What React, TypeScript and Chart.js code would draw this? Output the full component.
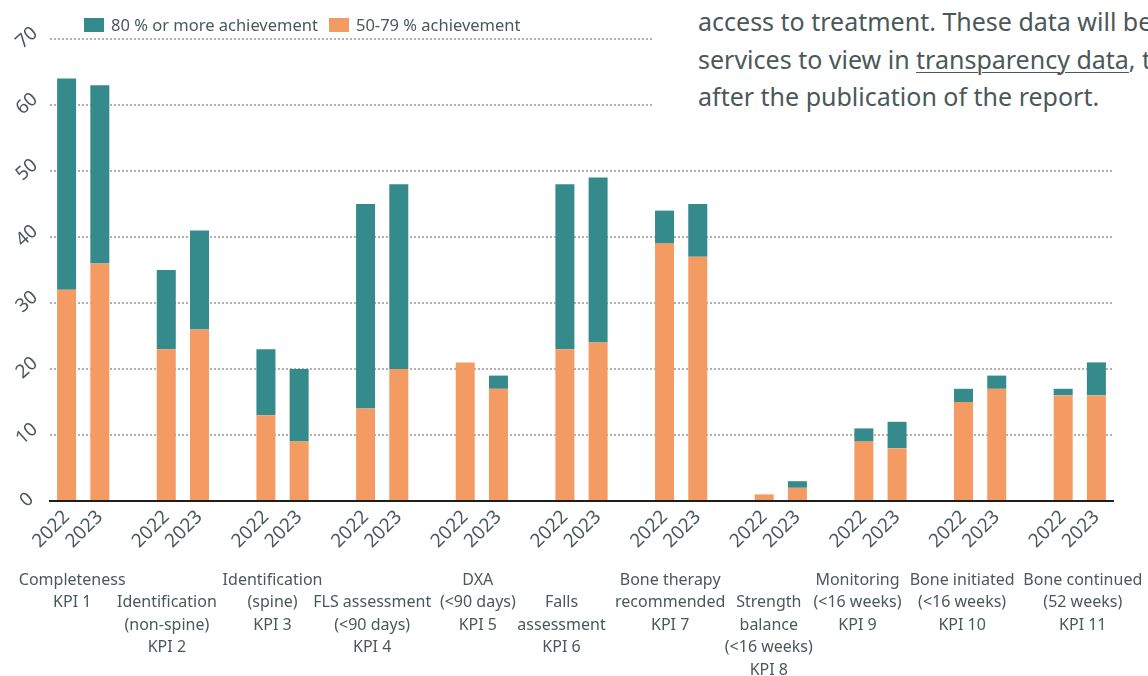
import React, { useEffect, useRef } from 'react';
import { Chart, registerables } from 'chart.js';

Chart.register(...registerables);

// ---------- data ----------
const years = ['2022', '2023'];

const kpiNames: string[][] = [
  ['Completeness', 'KPI 1'],
  ['Identification', '(non-spine)', 'KPI 2'],
  ['Identification', '(spine)', 'KPI 3'],
  ['FLS assessment', '(<90 days)', 'KPI 4'],
  ['DXA', '(<90 days)', 'KPI 5'],
  ['Falls', 'assessment', 'KPI 6'],
  ['Bone therapy', 'recommended', 'KPI 7'],
  ['Strength', 'balance', '(<16 weeks)', 'KPI 8'],
  ['Monitoring', '(<16 weeks)', 'KPI 9'],
  ['Bone initiated', '(<16 weeks)', 'KPI 10'],
  ['Bone continued', '(52 weeks)', 'KPI 11'],
];

// 50-79 % achievement (bottom of stack)
const mid2022 = [32, 23, 13, 14, 21, 23, 39, 1, 9, 15, 16];
const mid2023 = [36, 26, 9, 20, 17, 24, 37, 2, 8, 17, 16];
// 80 % or more achievement (top of stack)
const high2022 = [32, 12, 10, 31, 0, 25, 5, 0, 2, 2, 1];
const high2023 = [27, 15, 11, 28, 2, 25, 8, 1, 4, 2, 5];

const seriesHigh = '80 % or more achievement';
const seriesMid = '50-79 % achievement';

const yMax = 70;
const yStep = 10;

const noteLines = [
  ['access to treatment. These data will be'],
  ['services to view in ', 'transparency data', ', t'],
  ['after the publication of the report.'],
];

// ---------- layout / style ----------
const FONT = 'Noto Sans';
const TEXT = '#4a5859';
const TEAL = '#358a8c';
const ORANGE = '#f49b63';
const labelRow = [0, 1, 0, 1, 0, 1, 0, 1, 0, 0, 0];
const labelShift = [-11, -16, -10, -10, -4, -20, -11, -12, -23, -18, 3];

function slots<T>(a: T[], b: T[], gap: T): T[] {
  const out: T[] = [];
  for (let g = 0; g < a.length; g++) {
    out.push(a[g], b[g]);
    if (g < a.length - 1) out.push(gap);
  }
  return out;
}

const groupLabelPlugin = {
  id: 'groupLabels',
  afterDraw(chart: any) {
    const ctx = chart.ctx;
    const xs = chart.scales.x;
    const ys = chart.scales.y;
    ctx.save();
    ctx.fillStyle = TEXT;
    // y tick labels, rotated
    ctx.font = `19px "${FONT}"`;
    ctx.textAlign = 'center';
    ctx.textBaseline = 'middle';
    ys.ticks.forEach((t: any) => {
      const py = ys.getPixelForValue(t.value);
      ctx.save();
      ctx.translate(27, py - 1);
      ctx.rotate((-42 * Math.PI) / 180);
      ctx.fillText(String(t.value), 0, 0);
      ctx.restore();
    });
    // group labels
    ctx.font = `16px "${FONT}"`;
    kpiNames.forEach((lines, g) => {
      const i0 = g * 3;
      const cx = (xs.getPixelForValue(i0) + xs.getPixelForValue(i0 + 1)) / 2 + labelShift[g];
      const y0 = 580 + labelRow[g] * 22.5;
      lines.forEach((ln, k) => ctx.fillText(ln, cx, y0 + k * 22.6));
    });
    ctx.restore();
  },
};

export default function App() {
  const ref = useRef<HTMLCanvasElement>(null);

  useEffect(() => {
    document.body.style.margin = '0';
    const labels = slots(kpiNames.map(() => years[0]), kpiNames.map(() => years[1]), '');
    const chart = new Chart(ref.current as HTMLCanvasElement, {
      type: 'bar',
      data: {
        labels,
        datasets: [
          {
            label: seriesMid,
            data: slots<number | null>(mid2022, mid2023, null),
            backgroundColor: ORANGE,
            barPercentage: 0.572,
            categoryPercentage: 1,
          },
          {
            label: seriesHigh,
            data: slots<number | null>(high2022, high2023, null),
            backgroundColor: TEAL,
            barPercentage: 0.572,
            categoryPercentage: 1,
          },
        ],
      },
      options: {
        animation: false,
        responsive: true,
        maintainAspectRatio: false,
        layout: { padding: { top: 39, right: 35, left: 0, bottom: 0 } },
        plugins: { legend: { display: false }, tooltip: { enabled: false } },
        scales: {
          x: {
            stacked: true,
            grid: { display: false, drawTicks: false },
            border: { display: true, color: '#1e1e1e', width: 2 },
            ticks: {
              autoSkip: false,
              minRotation: 45,
              maxRotation: 45,
              padding: 5,
              color: TEXT,
              font: { family: FONT, size: 19 },
            },
            afterFit: (s: any) => {
              s.height = 175;
            },
          },
          y: {
            stacked: true,
            min: 0,
            max: yMax,
            ticks: { stepSize: yStep, display: false },
            grid: { color: '#b0b0b0', lineWidth: 2, drawTicks: false },
            border: { display: false, dash: [2, 2] },
            afterFit: (s: any) => {
              s.width = 50;
            },
          },
        },
      },
      plugins: [groupLabelPlugin],
    });
    return () => chart.destroy();
  }, []);

  const legendItems = [
    { label: seriesHigh, color: TEAL },
    { label: seriesMid, color: ORANGE },
  ];

  return (
    <div style={{ position: 'fixed', left: 0, top: 0, width: 1148, height: 676, background: '#fff', overflow: 'hidden' }}>
      <canvas ref={ref} />
      <div
        style={{
          position: 'absolute',
          left: 84,
          top: 13,
          display: 'flex',
          alignItems: 'center',
          fontFamily: FONT,
          fontSize: 16.5,
          color: TEXT,
          whiteSpace: 'nowrap',
        }}
      >
        {legendItems.map((it, i) => (
          <div key={i} style={{ display: 'flex', alignItems: 'center', marginRight: 11 }}>
            <span style={{ display: 'inline-block', width: 20, height: 14, background: it.color, marginRight: 7 }} />
            <span>{it.label}</span>
          </div>
        ))}
      </div>
      <div
        style={{
          position: 'absolute',
          left: 653,
          top: 0,
          width: 495,
          height: 118,
          background: '#fff',
          overflow: 'hidden',
          fontFamily: FONT,
          fontSize: 25,
          lineHeight: '37.5px',
          color: TEXT,
          whiteSpace: 'nowrap',
          paddingTop: 3,
          paddingLeft: 45,
          boxSizing: 'border-box',
        }}
      >
        {noteLines.map((parts, i) => (
          <div key={i}>
            {parts.map((p, j) =>
              p === 'transparency data' ? (
                <span key={j} style={{ textDecoration: 'underline', textDecorationThickness: 1, textUnderlineOffset: 3 }}>
                  {p}
                </span>
              ) : (
                <span key={j}>{p}</span>
              )
            )}
          </div>
        ))}
      </div>
    </div>
  );
}
